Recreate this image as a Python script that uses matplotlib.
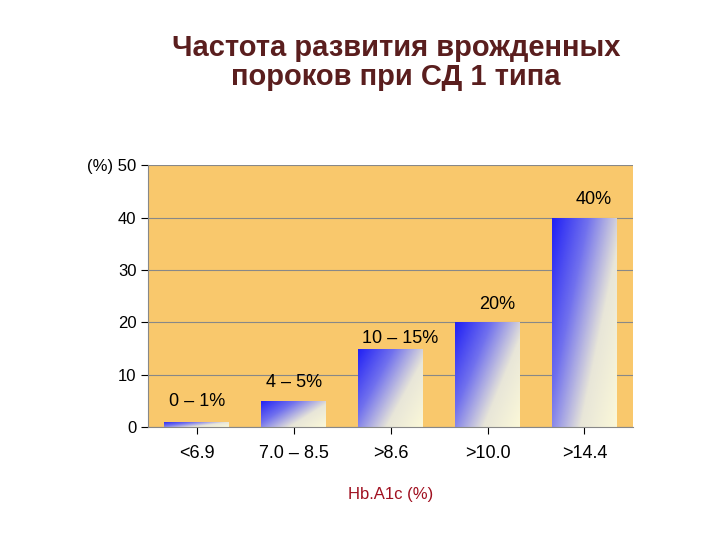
import numpy as np
import matplotlib.pyplot as plt
from matplotlib.colors import LinearSegmentedColormap

categories = ['<6.9', '7.0 – 8.5', '>8.6', '>10.0', '>14.4']
values = [1, 5, 15, 20, 40]
bar_labels = ['0 – 1%', '4 – 5%', '10 – 15%', '20%', '40%']

plt.rcParams['font.family'] = ['Liberation Sans', 'DejaVu Sans']

fig = plt.figure(figsize=(7.2, 5.4), dpi=100)
ax = fig.add_axes([0.206, 0.209, 0.673, 0.485])
ax.set_facecolor('#F9C86C')

x = np.arange(len(categories))
width = 0.67
bars = ax.bar(x, values, width, color='none', edgecolor='none', zorder=2)

# diagonal gradient: blue top-left -> pale yellow bottom-right
cmap = LinearSegmentedColormap.from_list('g', ['#2020f5', '#7070ee', '#e8e6d8', '#fbf8d8'])
gx, gy = np.meshgrid(np.linspace(0, 1, 100), np.linspace(0, 1, 100))
grad = 0.6 * gx + 0.4 * gy
for b in bars:
    x0, w, h = b.get_x(), b.get_width(), b.get_height()
    im = ax.imshow(grad, cmap=cmap, extent=[x0, x0 + w, 0, h], origin='upper',
                   aspect='auto', zorder=2)
    im.set_clip_path(b)

label_pos = [(0, 4.8), (1, 8.5), (2, 17.0), (3, 23.5), (4, 43.5)]
for (px, py), t in zip(label_pos, bar_labels):
    ax.text(px + (0.1 if px >= 2 else 0), py, t, ha='center', va='center', fontsize=13)

ax.set_xlim(-0.5, 4.5)
ax.set_ylim(0, 50)
ax.set_yticks([0, 10, 20, 30, 40, 50])
ax.set_yticklabels(['0', '10', '20', '30', '40', '(%) 50'], fontsize=12)
ax.set_xticks(x)
ax.set_xticklabels(categories, fontsize=13)
ax.tick_params(axis='x', length=5, pad=8)
ax.tick_params(axis='y', length=5)
ax.grid(axis='y', color='#888888', linewidth=0.8, zorder=1)
ax.set_axisbelow(True)
for s in ['top', 'right']:
    ax.spines[s].set_visible(False)
ax.spines['left'].set_color('#888888')
ax.spines['bottom'].set_color('#888888')

ax.set_xlabel('Hb.A1c (%)', fontsize=12, color='#A01020', labelpad=18)

fig.text(0.55, 0.885, 'Частота развития врожденных\nпороков при СД 1 типа',
         ha='center', va='center', fontsize=21, fontweight='bold',
         color='#5A1E1E', linespacing=1.05,
         family=['Liberation Sans', 'DejaVu Sans'])

fig.savefig('out.png', dpi=100)
